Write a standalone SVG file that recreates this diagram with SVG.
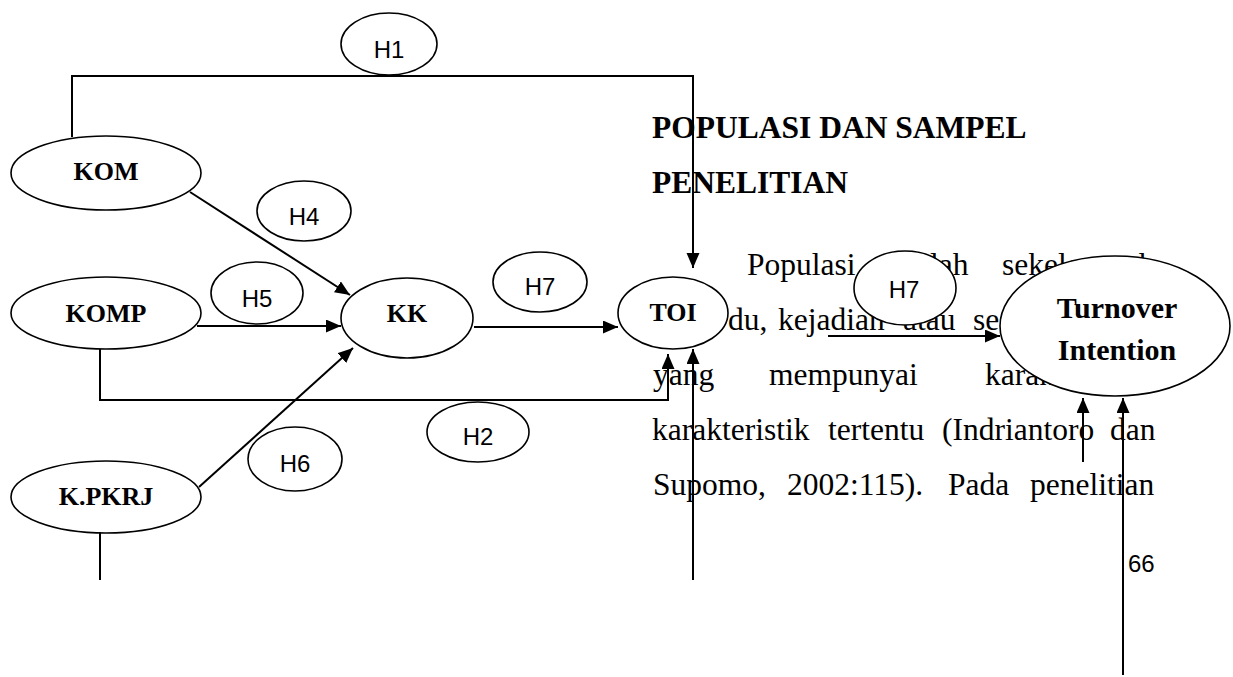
<svg xmlns="http://www.w3.org/2000/svg" width="1233" height="677" viewBox="0 0 1233 677">
<style>
.body{font-family:"Liberation Serif","Times New Roman",serif;font-size:31.5px;fill:#000}
.head{font-family:"Liberation Serif","Times New Roman",serif;font-size:31.5px;font-weight:bold;fill:#000}
.node ellipse{fill:#fff;stroke:#000;stroke-width:1.6}
.lbl{font-family:"Liberation Serif","Times New Roman",serif;font-size:26px;font-weight:bold;text-anchor:middle;fill:#000}
.big{font-family:"Liberation Serif","Times New Roman",serif;font-size:30px;font-weight:bold;text-anchor:middle;fill:#000}
.hyp{font-family:"Liberation Sans",Arial,sans-serif;font-size:24px;text-anchor:middle;fill:#000}
.num{font-family:"Liberation Sans",Arial,sans-serif;font-size:24px;fill:#000}
.conn path{fill:none;stroke:#000;stroke-width:2}
</style>
<defs>
<marker id="arr" markerUnits="userSpaceOnUse" markerWidth="16" markerHeight="14" refX="15" refY="6.5" orient="auto">
<path d="M0,0 L15,6.5 L0,13 z" fill="#000"/>
</marker>
</defs>
<rect width="1233" height="677" fill="#fff"/>
<g id="page-text">
<text class="head" x="652" y="138">POPULASI DAN SAMPEL</text>
<text class="head" x="652" y="193">PENELITIAN</text>
<text class="body" y="275"><tspan x="747">Populasi</tspan><tspan x="930">lah</tspan><tspan x="1002">sekelompok</tspan></text>
<text class="body" y="330"><tspan x="728">du,</tspan><tspan x="778">kejadian</tspan><tspan x="903">atau</tspan><tspan x="973">ses</tspan></text>
<text class="body" y="385"><tspan x="653">yang</tspan><tspan x="769">mempunyai</tspan><tspan x="985">karak</tspan></text>
<text class="body" y="440"><tspan x="652">karakteristik</tspan><tspan x="828">tertentu</tspan><tspan x="942">(Indriantoro</tspan><tspan x="1110">dan</tspan></text>
<text class="body" y="495"><tspan x="653">Supomo,</tspan><tspan x="787">2002:115).</tspan><tspan x="948">Pada</tspan><tspan x="1030">penelitian</tspan></text>
<text class="num" x="1128" y="572">66</text>
</g>
<g id="node-H1" class="node"><ellipse cx="389" cy="44" rx="48" ry="31"/><text class="hyp" x="389" y="58">H1</text></g>
<g id="node-KOM" class="node"><ellipse cx="106" cy="173" rx="95" ry="37"/><text class="lbl" x="106" y="180">KOM</text></g>
<g id="node-H4" class="node"><ellipse cx="304" cy="211" rx="47" ry="30"/><text class="hyp" x="304" y="225">H4</text></g>
<g id="node-KOMP" class="node"><ellipse cx="106" cy="313" rx="95" ry="36"/><text class="lbl" x="106" y="322">KOMP</text></g>
<g id="node-H5" class="node"><ellipse cx="257" cy="293" rx="46" ry="31"/><text class="hyp" x="257" y="307">H5</text></g>
<g id="node-KK" class="node"><ellipse cx="407" cy="318" rx="66" ry="40"/><text class="lbl" x="407" y="322">KK</text></g>
<g id="node-H7a" class="node"><ellipse cx="540" cy="282" rx="47" ry="30"/><text class="hyp" x="540" y="295">H7</text></g>
<g id="node-TOI" class="node"><ellipse cx="673" cy="313" rx="55" ry="36"/><text class="lbl" x="673" y="321">TOI</text></g>
<g id="node-H2" class="node"><ellipse cx="478" cy="432" rx="51" ry="30"/><text class="hyp" x="478" y="445">H2</text></g>
<g id="node-KPKRJ" class="node"><ellipse cx="106" cy="497" rx="95" ry="36"/><text class="lbl" x="106" y="505">K.PKRJ</text></g>
<g id="node-H6" class="node"><ellipse cx="295" cy="459" rx="47" ry="32"/><text class="hyp" x="295" y="472">H6</text></g>
<g id="node-H7b" class="node"><ellipse cx="905" cy="288" rx="51" ry="37"/><text class="hyp" x="904" y="298">H7</text></g>
<g id="node-TurnoverIntention" class="node"><ellipse cx="1115" cy="326" rx="115" ry="70"/><text class="big" x="1117" y="318">Turnover</text><text class="big" x="1117" y="360">Intention</text></g>
<g id="connectors" class="conn">
<path d="M72,137 V76 H693 V268" marker-end="url(#arr)"/>
<path d="M190,192 L350,295" marker-end="url(#arr)"/>
<path d="M197,326 H341" marker-end="url(#arr)"/>
<path d="M199,487 L353,348" marker-end="url(#arr)"/>
<path d="M474,327 H618" marker-end="url(#arr)"/>
<path d="M100,349 V400 H668 V354" marker-end="url(#arr)"/>
<path d="M100,532 V580"/>
<path d="M693,580 V349" marker-end="url(#arr)"/>
<path d="M828,336 H1000" marker-end="url(#arr)"/>
<path d="M1083,462 V398" marker-end="url(#arr)"/>
<path d="M1123,675 V398" marker-end="url(#arr)"/>
</g>
</svg>
